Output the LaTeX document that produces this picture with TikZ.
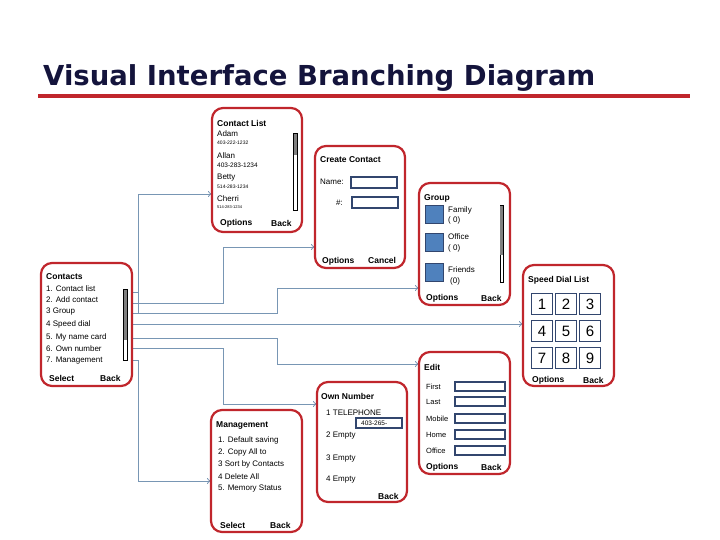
\documentclass[tikz,border=0pt]{standalone}
\usepackage{fontspec}
\setmainfont{Liberation Sans}
\newfontfamily\titlefont{DejaVu Sans}
\usetikzlibrary{arrows.meta}
\definecolor{phred}{RGB}{192,38,44}
\definecolor{conn}{RGB}{120,150,180}
\definecolor{blk}{RGB}{79,129,189}
\definecolor{fld}{RGB}{50,70,110}
\definecolor{ttl}{RGB}{20,20,60}
\begin{document}
\begin{tikzpicture}[x=1pt,y=-1pt,
  phone/.style={draw=phred,line width=2.2pt,rounded corners=11pt,fill=white},
  t/.style={anchor=west,inner sep=0pt,font=\fontsize{8}{9}\selectfont},
  hd/.style={t,font=\fontsize{8.5}{9}\selectfont\bfseries},
  sk/.style={t,font=\fontsize{8.5}{9}\selectfont\bfseries},
  tiny/.style={t,font=\fontsize{5}{6}\selectfont},
  field/.style={draw=fld,line width=1.3pt},
  sq/.style={draw=fld,line width=0.8pt,fill=blk},
  cell/.style={draw=fld,line width=1.5pt,minimum width=21pt,minimum height=21pt,inner sep=0pt,font=\fontsize{15}{16}\selectfont},
  scroll/.style={draw=black,line width=0.6pt,fill=white},
  conn/.style={draw=conn,line width=0.8pt,-{To[length=4pt,width=6pt]}}]
\useasboundingbox (0,0) rectangle (720,540);
\node[anchor=base west,inner sep=0pt,text=ttl,font=\fontsize{27.5}{28}\titlefont\bfseries] (title) at (43,86) {Visual Interface Branching Diagram};
\draw[phred,line width=3.5pt] (38,96) -- (690,96);

% connectors
\coordinate (c1) at (132,292); \coordinate (c2) at (132,303); \coordinate (c3) at (132,313);
\coordinate (c4) at (132,324); \coordinate (c5) at (132,338); \coordinate (c6) at (132,348);
\coordinate (c7) at (132,360);
\coordinate (e1) at (212,194); \coordinate (e2) at (315,247); \coordinate (e3) at (419,288);
\coordinate (e4) at (523,324); \coordinate (e5) at (419,364); \coordinate (e6) at (317,404);
\coordinate (e7) at (211,481);
\draw[conn] (c1) -- (138,292) |- (e1);
\draw[conn] (c2) -| (223,247) -- (e2);
\draw[conn] (c3) -- (138,313) -- (138,292) (138,313) -| (277,288) -- (e3);
\draw[conn] (c4) -- (e4);
\draw[conn] (c5) -| (277,364) -- (e5);
\draw[conn] (c6) -| (223,404) -- (e6);
\draw[conn] (c7) -- (138,360) |- (e7);

% Contact List
\draw[phone] (212,108) rectangle (302,232);
\node[hd] (cl) at (217,123) {Contact List};
\node[t] (a1) at (217,134) {Adam};
\node[tiny] (a2) at (217,143) {403-222-1232};
\node[t] (a3) at (217,156) {Allan};
\node[t,font=\fontsize{6.5}{7}\selectfont] (a4) at (217,165) {403-283-1234};
\node[t] (a5) at (217,178) {Betty};
\node[tiny] (a6) at (217,187) {514-283-1234};
\node[t] (a7) at (217,199) {Cherri};
\node[tiny,font=\fontsize{4}{5}\selectfont] (a8) at (217,207) {514-283-1234};
\node[sk] (a9) at (220,223) {Options};
\node[sk] (a10) at (271,223) {Back};
\draw[scroll] (293,133) rectangle (297,210);
\fill[gray] (293.5,134) rectangle (296.5,155);

% Create Contact
\draw[phone] (315,146) rectangle (405,268);
\node[hd] (cc) at (320,160) {Create Contact};
\node[t] (n1) at (320,182) {Name:};
\draw[field] (351,177) rectangle (397,188);
\node[t] (n2) at (336,203) {\#:};
\draw[field] (352,197) rectangle (398,208);
\node[sk] (n3) at (322,261) {Options};
\node[sk] (n4) at (368,260) {Cancel};

% Group
\draw[phone] (419,183) rectangle (510,305);
\node[hd] (g) at (424,198) {Group};
\draw[sq] (425,205) rectangle (443,223);
\draw[sq] (425,233) rectangle (443,251);
\draw[sq] (425,263) rectangle (443,281);
\node[t] (g1) at (448,210) {Family};
\node[t] (g2) at (448,220) {( 0)};
\node[t] (g3) at (448,237) {Office};
\node[t] (g4) at (448,248) {( 0)};
\node[t] (g5) at (448,270) {Friends};
\node[t] (g6) at (450,281) {(0)};
\draw[scroll] (500,205) rectangle (503,282);
\fill[gray] (500.4,206) rectangle (502.6,255);
\node[sk] (g7) at (426,298) {Options};
\node[sk] (g8) at (481,298) {Back};

% Contacts
\draw[phone] (41,263) rectangle (132,386);
\node[hd] (ct) at (46,277) {Contacts};
\node[t] (i1) at (46,289) {1. Contact list};
\node[t] (i2) at (46,300) {2. Add contact};
\node[t] (i3) at (46,312) {3  Group};
\node[t] (i4) at (46,324) {4  Speed dial};
\node[t] (i5) at (46,337) {5. My  name card};
\node[t] (i6) at (46,349) {6. Own number};
\node[t] (i7) at (46,361) {7. Management};
\draw[scroll] (123,289) rectangle (127,360);
\fill[gray] (123.5,290) rectangle (126.5,340);
\node[sk] (i8) at (49,378) {Select};
\node[sk] (i9) at (100,378) {Back};

% Speed dial
\draw[phone] (523,265) rectangle (614,386);
\node[hd] (sd) at (528,280) {Speed Dial List};
\foreach \d [count=\k from 0] in {1,...,9}{
  \pgfmathtruncatemacro{\cx}{542+24*mod(\k,3)}
  \pgfmathtruncatemacro{\cy}{304+27*floor(\k/3)}
  \node[cell] (d\d) at (\cx,\cy) {\d};
}
\node[sk] (s1) at (532,380) {Options};
\node[sk] (s2) at (583,380) {Back};

% Edit
\draw[phone] (419,352) rectangle (510,474);
\node[hd] (ed) at (424,367) {Edit};
\foreach \l/\y [count=\k] in {First/387,Last/402,Mobile/419,Home/435,Office/451}{
  \node[t,font=\fontsize{7.5}{8}\selectfont] (f\k) at (426,\y) {\l};
  \draw[field] (455,\y-5) rectangle (505,\y+4);
}
\node[sk] (f6) at (426,467) {Options};
\node[sk] (f7) at (481,467) {Back};

% Own number
\draw[phone] (317,382) rectangle (407,502);
\node[hd] (on) at (321,396) {Own Number};
\node[t] (o1) at (326,413) {1 TELEPHONE};
\draw[field] (356,418) rectangle (402,428);
\node[tiny,font=\fontsize{6.5}{7}\selectfont] (o2) at (361,423) {403-265-};
\node[t] (o3) at (326,436) {2 Empty};
\node[t] (o4) at (326,459) {3 Empty};
\node[t] (o5) at (326,480) {4 Empty};
\node[sk] (o6) at (378,496) {Back};

% Management
\draw[phone] (211,410) rectangle (302,532);
\node[hd] (mg) at (216,425) {Management};
\node[t] (m1) at (218,440) {1. Default saving};
\node[t] (m2) at (218,452) {2. Copy All to};
\node[t] (m3) at (218,464) {3  Sort by Contacts};
\node[t] (m4) at (218,477) {4  Delete All};
\node[t] (m5) at (218,489) {5. Memory Status};
\node[sk] (m6) at (220,525) {Select};
\node[sk] (m7) at (270,525) {Back};
\end{tikzpicture}
\end{document}
